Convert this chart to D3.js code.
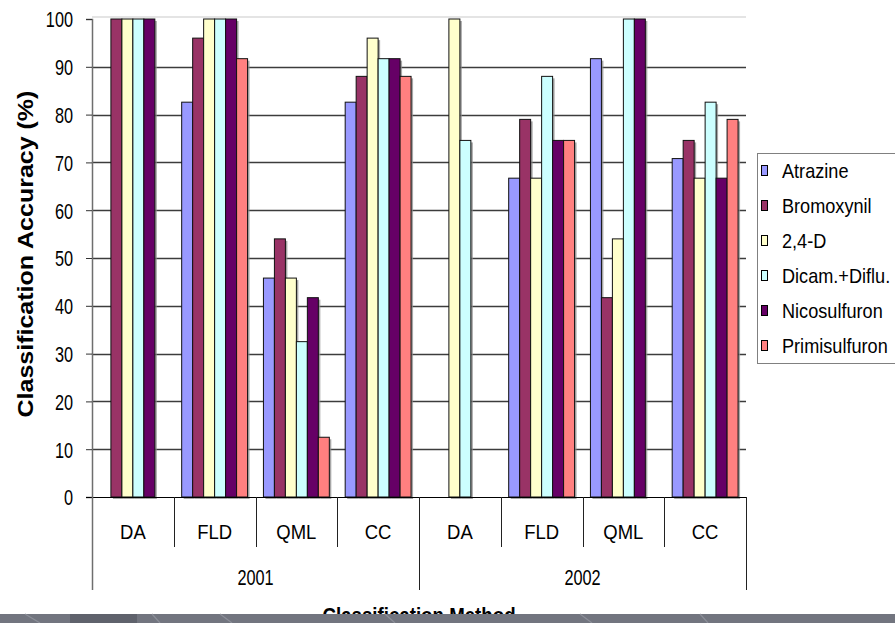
<!DOCTYPE html>
<html>
<head>
<meta charset="utf-8">
<script src="https://cdn.jsdelivr.net/npm/d3@7"></script>
<style>
  html, body { margin: 0; padding: 0; background: #fff; }
  svg { display: block; }
  text { font-family: "Liberation Sans", Arial, sans-serif; fill: #000; }
</style>
</head>
<body>
<svg id="chart" width="895" height="623"></svg>
<script>
// ---- data ----
const years = ["2001", "2002"];
const methods = ["DA", "FLD", "QML", "CC"];
const seriesNames = ["Atrazine", "Bromoxynil", "2,4-D", "Dicam.+Diflu.", "Nicosulfuron", "Primisulfuron"];
const seriesColors = ["#9999FF", "#993366", "#FFFFCC", "#CCFFFF", "#660066", "#FF8080"];
const yTicks = [0, 10, 20, 30, 40, 50, 60, 70, 80, 90, 100];
// values per series, for categories 2001 DA,FLD,QML,CC then 2002 DA,FLD,QML,CC
const atrazine      = [0,   82.6, 45.8, 82.6, 0,    66.7, 91.7, 70.8];
const bromoxynil    = [100, 96.0, 54.0, 88.0, 0,    79.0, 41.7, 74.6];
const d24           = [100, 100,  45.8, 96.0, 100,  66.7, 54.0, 66.7];
const dicamDiflu    = [100, 100,  32.5, 91.7, 74.6, 88.0, 100,  82.6];
const nicosulfuron  = [100, 100,  41.7, 91.7, 0,    74.6, 100,  66.7];
const primisulfuron = [0,   91.7, 12.5, 88.0, 0,    74.6, 0,    79.0];
const seriesValues = [atrazine, bromoxynil, d24, dicamDiflu, nicosulfuron, primisulfuron];

// categories built from years x methods
const categories = [];
years.forEach(y => methods.forEach(m => categories.push(y + "|" + m)));

const svg = d3.select("#chart");
const L = 92, R = 746, T = 19, B = 497;

const x0 = d3.scaleBand().domain(categories).range([L, R]).padding(0);
const bw = x0.bandwidth();
const x1 = d3.scaleBand().domain(seriesNames).range([bw * 0.097, bw * 0.903]).padding(0);
const y = d3.scaleLinear().domain([0, 100]).range([B, T]);

// top light border
svg.append("line").attr("x1", L).attr("x2", R).attr("y1", y(100) - 2).attr("y2", y(100) - 2)
  .attr("stroke", "#e4e4e4").attr("stroke-width", 2);

// gridlines
svg.append("g").selectAll("line").data(yTicks.filter(t => t > 0 && t < 100)).join("line")
  .attr("x1", L).attr("x2", R)
  .attr("y1", d => Math.round(y(d)) + 0.5).attr("y2", d => Math.round(y(d)) + 0.5)
  .attr("stroke", "#3c3c3c").attr("stroke-width", 1.3);

// bars
const flat = [];
categories.forEach((c, ci) => seriesNames.forEach((s, si) => {
  const v = seriesValues[si][ci];
  if (v > 0) flat.push({ c, s, si, v });
}));

const gBars = svg.append("g");
gBars.selectAll("rect.shadow").data(flat).join("rect").attr("class", "shadow")
  .attr("x", d => x0(d.c) + x1(d.s) + 2)
  .attr("y", d => y(d.v) + 2)
  .attr("width", x1.bandwidth())
  .attr("height", d => B - y(d.v))
  .attr("fill", "#8a8a8a").attr("opacity", 0.75);
gBars.selectAll("rect.bar").data(flat).join("rect").attr("class", "bar")
  .attr("x", d => x0(d.c) + x1(d.s))
  .attr("y", d => y(d.v))
  .attr("width", x1.bandwidth())
  .attr("height", d => B - y(d.v))
  .attr("fill", d => seriesColors[d.si])
  .attr("stroke", "#111").attr("stroke-width", 1);

// y axis
const yAxis = d3.axisLeft(y).tickValues(yTicks).tickSize(6).tickFormat(d3.format("d"));
const gy = svg.append("g").attr("transform", `translate(${L},0)`).call(yAxis);
gy.select(".domain").attr("stroke", "#6e6e6e").attr("stroke-width", 1.5);
gy.selectAll(".tick line").attr("stroke", "#333");
gy.selectAll(".tick text")
  .attr("x", -19 / 0.74).attr("dy", "0.36em")
  .attr("transform", "scale(0.74,1)")
  .style("font-size", "22px").style("font-family", "'Liberation Sans', Arial, sans-serif").attr("fill", "#000");

// x axis baseline
svg.append("line").attr("x1", L - 6).attr("x2", R).attr("y1", B + 0.5).attr("y2", B + 0.5)
  .attr("stroke", "#000").attr("stroke-width", 1.2);

// category separators
const bounds = categories.map(c => x0(c)).concat([R]);
svg.append("g").selectAll("line").data(bounds).join("line")
  .attr("x1", d => Math.round(d) + 0.5).attr("x2", d => Math.round(d) + 0.5)
  .attr("y1", B)
  .attr("y2", (d, i) => (i % methods.length === 0) ? 590 : 547)
  .attr("stroke", (d, i) => i === 0 ? "#6e6e6e" : "#222").attr("stroke-width", (d, i) => i === 0 ? 1.5 : 1);

// category labels
svg.append("g").selectAll("text").data(categories).join("text")
  .attr("transform", c => `translate(${x0(c) + bw / 2},539) scale(0.88,1)`)
  .attr("text-anchor", "middle").style("font-size", "21px")
  .text(c => c.split("|")[1]);

// year labels
svg.append("g").selectAll("text").data(years).join("text")
  .attr("transform", (yr) => {
    const first = x0(yr + "|" + methods[0]);
    const last = x0(yr + "|" + methods[methods.length - 1]) + bw;
    return `translate(${(first + last) / 2},585) scale(0.74,1)`;
  })
  .attr("text-anchor", "middle").style("font-size", "22px")
  .text(d => d);

// axis titles
svg.append("text")
  .attr("transform", `translate(33,254) scale(0.89,1) rotate(-90)`)
  .attr("text-anchor", "middle").style("font-size", "25px").style("font-weight", "bold")
  .text("Classification Accuracy (%)");
svg.append("text")
  .attr("transform", `translate(${(L + R) / 2},623) scale(0.85,1)`)
  .attr("text-anchor", "middle").style("font-size", "22px").style("font-weight", "bold")
  .text("Classification Method");

// legend
const lg = svg.append("g");
lg.append("rect").attr("x", 757.5).attr("y", 153.5).attr("width", 160).attr("height", 210)
  .attr("fill", "#fff").attr("stroke", "#808080").attr("stroke-width", 1);
const items = lg.selectAll("g.item").data(seriesNames).join("g").attr("class", "item")
  .attr("transform", (d, i) => `translate(0,${171 + i * 35})`);
items.append("rect").attr("x", 761.5).attr("y", -5.5).attr("width", 6).attr("height", 10)
  .attr("fill", (d, i) => seriesColors[i]).attr("stroke", "#000").attr("stroke-width", 1);
items.append("text")
  .attr("transform", "translate(782,7) scale(0.93,1)")
  .style("font-size", "19.5px")
  .text(d => d);

// bottom decorative band
const band = svg.append("g");
band.append("rect").attr("x", 0).attr("y", 614).attr("width", 895).attr("height", 9).attr("fill", "#72757f");
band.append("rect").attr("x", 70).attr("y", 614).attr("width", 67).attr("height", 9).attr("fill", "#5f626c");
[[25, 40], [152, 160], [220, 232], [385, 395], [580, 592], [700, 708]].forEach(p => {
  band.append("line").attr("x1", p[0]).attr("x2", p[1]).attr("y1", 614).attr("y2", 623)
    .attr("stroke", "#8c8f99").attr("stroke-width", 1.2);
});
</script>
</body>
</html>
